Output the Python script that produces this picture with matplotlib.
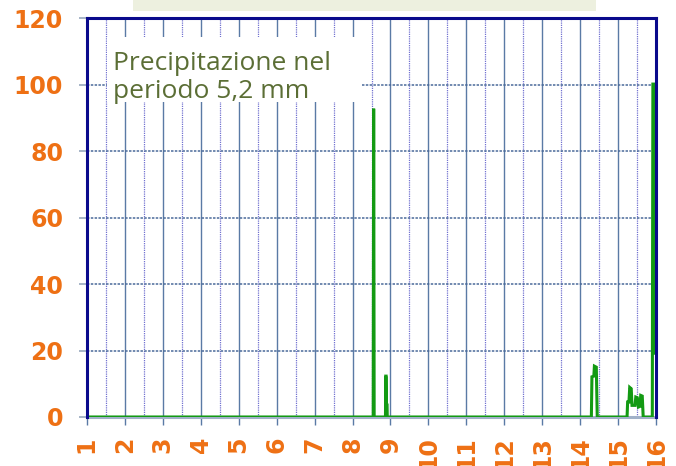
import matplotlib
matplotlib.use("Agg")
import matplotlib.pyplot as plt
from matplotlib.patches import Rectangle
import numpy as np

# ---- data (day of period, rain mm) ----
days = [1.0, 8.545, 8.557, 8.57, 8.868, 8.875, 8.885, 8.895, 8.91, 8.915,
        14.29, 14.305, 14.355, 14.37, 14.42, 14.445,
        15.23, 15.245, 15.28, 15.30, 15.34, 15.36, 15.44, 15.46, 15.50, 15.53,
        15.57, 15.59, 15.63, 15.655,
        15.895, 15.91, 15.945, 15.955, 16.0]
rain_mm = [0, 0, 92.8, 0, 0, 12.3, 12.3, 3.6, 3.6, 0,
           0, 12.1, 12.3, 15.3, 15.0, 0,
           0, 4.5, 4.5, 8.9, 8.5, 3.5, 3.5, 6.0, 5.8, 3.0,
           3.2, 6.5, 6.3, 0,
           0, 100.2, 100.2, 19.2, 19.2]

x_ticks = list(range(1, 17))
y_ticks = [0, 20, 40, 60, 80, 100, 120]
note_line1 = "Precipitazione nel"
note_line2 = "periodo 5,2 mm"

ORANGE = "#EE7014"
GREEN = "#139A13"
NAVY = "#0A0A8C"
OLIVE = "#5B6E35"

W, H = 676, 466
fig = plt.figure(figsize=(W / 100, H / 100), dpi=100)
ax = fig.add_axes([86.7 / W, 1 - 417 / H, (656.3 - 86.7) / W, (417 - 18.3) / H])

# title box (cut at top)
fig.patches.append(Rectangle((133 / W, 1 - 10.7 / H), (596 - 133) / W, 10.7 / H,
                             transform=fig.transFigure, facecolor="#EDF0DF",
                             edgecolor="none", zorder=0))

ax.set_xlim(1, 16)
ax.set_ylim(0, 120)

# grid lines
for d in x_ticks[1:-1]:
    ax.axvline(d, color="#5A7AA5", lw=1.0, zorder=1)
for d in np.arange(1.5, 16, 1.0):
    ax.axvline(d, color="#7272D0", lw=0.9, ls=(0, (1, 0.8)), zorder=1)
for v in y_ticks[1:-1]:
    ax.axhline(v, color="#4A6A9A", lw=1.1, ls=(0, (1.6, 0.9)), zorder=1)

ax.plot(days, rain_mm, color=GREEN, lw=2.2, solid_joinstyle="miter", zorder=3)

ax.set_xticks(x_ticks)
ax.set_xticklabels([str(t) for t in x_ticks], rotation=90, fontfamily="DejaVu Sans",
                   fontweight="bold", fontsize=17, color=ORANGE)
ax.set_yticks(y_ticks)
ax.set_yticklabels([str(t) for t in y_ticks], fontfamily="DejaVu Sans",
                   fontweight="bold", fontsize=17, color=ORANGE)
ax.tick_params(axis="x", length=6, width=1.0, color="#5A7AA5", pad=8)
ax.tick_params(axis="y", length=6, width=1.1, color="#8EA0B8", pad=11)

for s in ["left", "top", "right"]:
    ax.spines[s].set_color(NAVY)
    ax.spines[s].set_linewidth(2.2)
    ax.spines[s].set_zorder(4)
ax.spines["bottom"].set_color("#A0B0C8")
ax.spines["bottom"].set_linewidth(2.2)

# note box
fig.patches.append(Rectangle((107 / W, 1 - 102 / H), (362 - 107) / W, 65 / H,
                             transform=fig.transFigure, facecolor="white",
                             edgecolor="none", zorder=2))
fig.text(113 / W, 1 - 70 / H, note_line1, fontfamily="Open Sans", fontsize=19,
         color=OLIVE, va="baseline", ha="left", zorder=5)
fig.text(113 / W, 1 - 98.3 / H, note_line2, fontfamily="Open Sans", fontsize=19,
         color=OLIVE, va="baseline", ha="left", zorder=5)

fig.savefig("out.png", dpi=100)
